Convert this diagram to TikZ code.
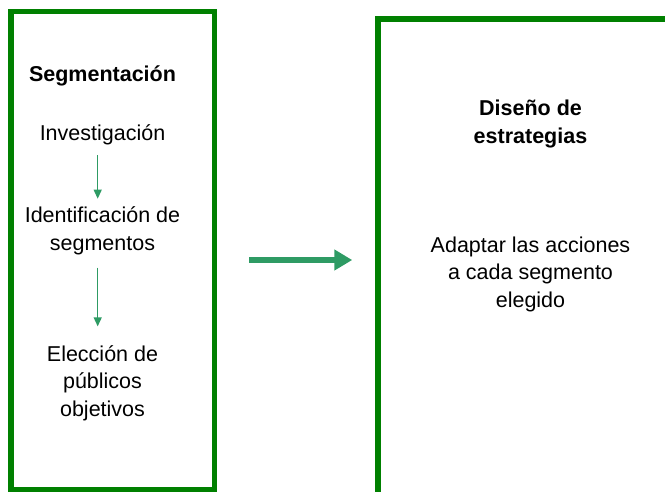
\documentclass[tikz,border=0pt]{standalone}
\usepackage{fontspec}
\setmainfont{Liberation Sans}
\usepackage{tikz}
\usetikzlibrary{arrows.meta, positioning, calc}

\definecolor{boxgreen}{RGB}{0,128,0}
\definecolor{flowgreen}{RGB}{46,155,100}

\begin{document}
\begin{tikzpicture}[
  x=1pt, y=-1pt,
  panel/.style = {draw=boxgreen, line width=5.5pt, fill=white, inner sep=0pt},
  txt/.style = {inner sep=0pt, anchor=base, align=center,
    font=\fontsize{21.5}{27.3}\selectfont},
  head/.style = {txt, font=\fontsize{21.5}{27.3}\selectfont\bfseries},
  flow/.style = {draw=flowgreen, line width=1.3pt, -{Triangle[width=8pt,length=9pt]}},
  bigarrow/.style = {draw=flowgreen, line width=6pt, -{Triangle[width=20pt,length=18pt]}}
]
\useasboundingbox (0,0) rectangle (665,491);
\clip (0,0) rectangle (665,491);

% Left panel: Segmentacion
\node[panel, minimum width=203.5pt, minimum height=478.5pt] (lbox) at (112.75,250.75) {};

% Right panel: Diseno de estrategias
\node[panel, minimum width=342pt, minimum height=501pt] (rbox) at (549,269.5) {};

% Left panel texts (base = last line)
\node[head] (seg) at (102.5,81) {Segmentación};
\node[txt] (inv) at (102.5,140.5) {Investigación};
\node[txt] (ident) at (102.5,250) {Identificación de\\segmentos};
\node[txt] (elec) at (102.5,416) {Elección de\\públicos\\objetivos};

% Right panel texts
\node[head] (dis) at (530.5,143) {Diseño de\\estrategias};
\node[txt] (adap) at (530.5,307) {Adaptar las acciones\\a cada segmento\\elegido};

% Steps in the left panel
\coordinate (ax) at (97.7,0);
\coordinate (a1) at ($(inv.south -| ax)+(0,10)$);
\coordinate (b1) at ($(ident.north -| ax)+(0,-8)$);
\coordinate (a2) at ($(ident.south -| ax)+(0,13)$);
\coordinate (b2) at ($(elec.north -| ax)+(0,-19)$);
\draw[flow] (a1) -- (b1);
\draw[flow] (a2) -- (b2);

% Main arrow between panels
\draw[bigarrow] ([xshift=32pt,yshift=-9.25pt]lbox.east) -- ([xshift=-23pt,yshift=9.5pt]rbox.west);

\end{tikzpicture}
\end{document}
